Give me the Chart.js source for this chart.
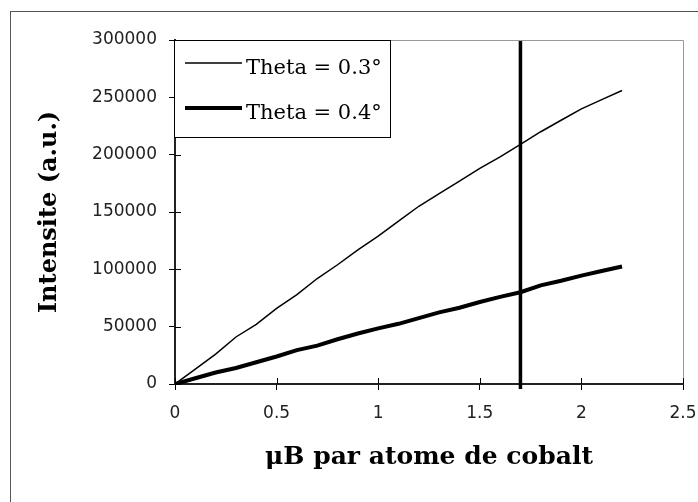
<!DOCTYPE html>
<html>
<head>
<meta charset="utf-8">
<script src="https://cdn.jsdelivr.net/npm/chart.js@4/dist/chart.umd.min.js"></script>
<style>
  html, body { margin: 0; padding: 0; background: #fff; }
  #wrap { position: relative; width: 698px; height: 502px; overflow: hidden; background: #fff; }
  #frame { position: absolute; left: 10px; top: 11px; width: 800px; height: 600px; border: 1px solid #555; }
  #c { position: absolute; left: 0; top: 0; }
</style>
</head>
<body>
<div id="wrap">
  <div id="frame"></div>
  <canvas id="c" width="698" height="502"></canvas>
</div>
<script>
// Magnetic moment per cobalt atom (µB)
const moments = [0, 0.1, 0.2, 0.3, 0.4, 0.5, 0.6, 0.7, 0.8, 0.9, 1.0, 1.1,
                 1.2, 1.3, 1.4, 1.5, 1.6, 1.7, 1.8, 1.9, 2.0, 2.1, 2.2];

// Intensity at Theta = 0.3°
const theta03 = [0, 13000, 26000, 41000, 52000, 66000, 78000, 92000, 104000, 117000, 129000, 142000,
                 155000, 166000, 177000, 188000, 198000, 209000, 220000, 230000, 240000, 248000, 256000];

// Intensity at Theta = 0.4°
const theta04 = [0, 5000, 10000, 14000, 19000, 24000, 29500, 33500, 39000, 44000, 48500, 52500,
                 57500, 62500, 66500, 71500, 76000, 80000, 86000, 90000, 94500, 98500, 102500];

// Vertical marker position
const markerX = 1.7;

const seriesLabels = ['Theta = 0.3°', 'Theta = 0.4°'];
const yTickLabels = ['0', '50000', '100000', '150000', '200000', '250000', '300000'];
const xTickLabels = ['0', '0.5', '1', '1.5', '2', '2.5'];
const xMax = 2.5;
const yMax = 300000;

const toPoints = (xs, ys) => xs.map((x, i) => ({ x: x, y: ys[i] }));

// Small inner tick marks crossing the axes, plus the grey frame on top and right
const axisDecor = {
  id: 'axisDecor',
  afterDatasetsDraw(chart) {
    const ctx = chart.ctx;
    const ca = chart.chartArea;
    const xs = chart.scales.x, ys = chart.scales.y;
    ctx.save();
    ctx.strokeStyle = '#999';
    ctx.lineWidth = 1;
    ctx.beginPath();
    ctx.moveTo(ca.left, ca.top + 0.5);
    ctx.lineTo(ca.right + 0.5, ca.top + 0.5);
    ctx.lineTo(ca.right + 0.5, ca.bottom);
    ctx.stroke();
    ctx.strokeStyle = '#000';
    ctx.beginPath();
    xs.ticks.forEach(t => {
      const px = Math.round(xs.getPixelForValue(t.value)) + 0.5;
      ctx.moveTo(px, ca.bottom);
      ctx.lineTo(px, ca.bottom - 6);
    });
    ys.ticks.forEach(t => {
      const py = Math.round(ys.getPixelForValue(t.value)) + 0.5;
      ctx.moveTo(ca.left, py);
      ctx.lineTo(ca.left + 6, py);
    });
    ctx.stroke();
    // marker line runs a few pixels past the horizontal axis
    const mx = xs.getPixelForValue(markerX);
    ctx.lineWidth = 3.5;
    ctx.beginPath();
    ctx.moveTo(mx, ca.bottom);
    ctx.lineTo(mx, ca.bottom + 5);
    ctx.stroke();
    ctx.restore();
  }
};

// Boxed legend placed in the upper-left corner of the plot
const boxedLegend = {
  id: 'boxedLegend',
  afterDraw(chart) {
    const ctx = chart.ctx;
    const ca = chart.chartArea;
    const left = ca.left - 1, top = ca.top;
    ctx.save();
    ctx.fillStyle = '#fff';
    ctx.fillRect(left, top, 216, 97);
    ctx.strokeStyle = '#000';
    ctx.lineWidth = 1;
    ctx.strokeRect(left + 0.5, top + 0.5, 216, 97);
    ctx.font = '21px "DejaVu Serif"';
    ctx.textBaseline = 'alphabetic';
    ctx.textAlign = 'left';
    const rows = [23, 68];
    seriesLabels.forEach((label, i) => {
      const ds = chart.data.datasets[i];
      const y = top + rows[i];
      ctx.strokeStyle = ds.borderColor;
      ctx.lineWidth = ds.borderWidth;
      ctx.beginPath();
      ctx.moveTo(left + 11, y);
      ctx.lineTo(left + 68, y);
      ctx.stroke();
      ctx.fillStyle = '#000';
      ctx.fillText(label, left + 72, y + 11);
    });
    ctx.restore();
  }
};

new Chart(document.getElementById('c'), {
  type: 'line',
  data: {
    datasets: [
      { label: seriesLabels[0], data: toPoints(moments, theta03), borderColor: '#000', borderWidth: 1.5,
        pointRadius: 0, tension: 0, fill: false },
      { label: seriesLabels[1], data: toPoints(moments, theta04), borderColor: '#000', borderWidth: 4,
        pointRadius: 0, tension: 0, fill: false },
      { label: 'marker', data: [{ x: markerX, y: 0 }, { x: markerX, y: yMax }], borderColor: '#000',
        borderWidth: 3.5, pointRadius: 0, fill: false }
    ]
  },
  options: {
    responsive: false,
    animation: false,
    devicePixelRatio: 1,
    layout: { padding: { top: 40, right: 15, left: 0, bottom: 0 } },
    plugins: {
      legend: { display: false },
      tooltip: { enabled: false }
    },
    scales: {
      x: {
        type: 'linear',
        min: 0,
        max: xMax,
        afterFit(s) { s.height = 118; s.paddingLeft = 0; s.paddingRight = 0; },
        ticks: {
          stepSize: 0.5,
          padding: 13,
          color: '#222',
          font: { family: '"DejaVu Sans"', size: 17 },
          callback: (v, i) => xTickLabels[i]
        },
        grid: { drawOnChartArea: false, tickLength: 6, color: '#000', lineWidth: 1 },
        border: { color: '#222', width: 2 },
        title: {
          display: true,
          text: 'μB par atome de cobalt',
          color: '#000',
          font: { family: '"DejaVu Serif"', size: 25, weight: 'bold' },
          padding: { top: 0, bottom: 30 }
        }
      },
      y: {
        min: 0,
        max: yMax,
        afterFit(s) { s.width = 175; s.paddingTop = 0; s.paddingBottom = 0; },
        ticks: {
          stepSize: 50000,
          padding: 12,
          color: '#222',
          font: { family: '"DejaVu Sans"', size: 17 },
          callback: (v, i) => yTickLabels[i]
        },
        grid: { drawOnChartArea: false, tickLength: 6, color: '#000', lineWidth: 1 },
        border: { color: '#222', width: 2 },
        title: {
          display: true,
          text: 'Intensite (a.u.)',
          color: '#000',
          font: { family: '"DejaVu Serif"', size: 24, weight: 'bold' },
          padding: { top: 35, bottom: 0 }
        }
      }
    }
  },
  plugins: [axisDecor, boxedLegend]
});
</script>
</body>
</html>
